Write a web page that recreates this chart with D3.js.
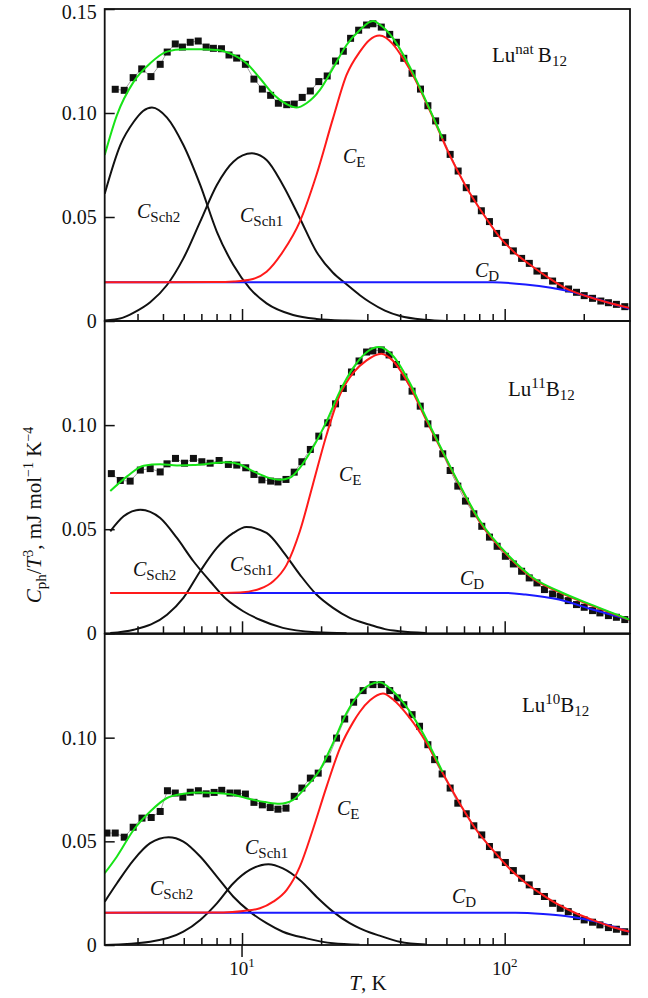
<!DOCTYPE html>
<html>
<head>
<meta charset="utf-8">
<script src="https://cdn.jsdelivr.net/npm/d3@7"></script>
<style>
  body { margin: 0; background: #fff; }
  svg { display: block; }
  text { font-family: "Liberation Serif", "Times New Roman", serif; fill: #111; }
</style>
</head>
<body>
<svg id="chart" width="648" height="998"></svg>
<script>
// ---------- data: [T (K), Cph/T^3 (mJ mol^-1 K^-4)] ----------
// Lu(nat)B12
const natPoints = [[3.29,0.1114],[3.56,0.1109],[3.85,0.1170],[4.15,0.1212],[4.50,0.1175],[4.88,0.1234],[5.19,0.1293],[5.57,0.1332],[5.93,0.1317],[6.35,0.1340],[6.81,0.1346],[7.30,0.1317],[7.78,0.1311],[8.35,0.1309],[8.92,0.1279],[9.54,0.1264],[10.3,0.1234],[11.1,0.1163],[11.95,0.1115],[12.85,0.1085],[13.75,0.1047],[14.8,0.1040],[15.8,0.1043],[16.95,0.1075],[18.2,0.1106],[19.6,0.1151],[21.1,0.1178],[22.7,0.1250],[24.3,0.1297],[25.9,0.1359],[27.8,0.1398],[29.8,0.1423],[31.5,0.1429],[33.9,0.1413],[36.5,0.1378],[38.7,0.1340],[41.3,0.1263],[44.4,0.1191],[47.8,0.1115],[51.0,0.1035],[54.6,0.0962],[58.1,0.0881],[62.0,0.0801],[66.5,0.0721],[71.4,0.0641],[76.3,0.0587],[81.5,0.0530],[87.5,0.0478],[93.2,0.0421],[100.6,0.0378],[107.9,0.0337],[116.0,0.0301],[124.1,0.0277],[132.7,0.0240],[141.5,0.0218],[152.2,0.0192],[162.7,0.0170],[175.1,0.0154],[187.7,0.0138],[200.8,0.0122],[216.0,0.0109],[232.3,0.0096],[248.3,0.0088],[266.3,0.0080],[286.6,0.0069]];
const natTotal = [[3,0.0798],[3.34,0.0990],[3.87,0.1151],[4.47,0.1239],[5.18,0.1295],[5.98,0.1306],[6.93,0.1306],[8.02,0.1303],[9.27,0.1279],[10.4,0.1239],[11.7,0.1167],[13.15,0.1090],[14.8,0.1042],[16.1,0.1026],[17.6,0.1047],[19.8,0.1111],[22.2,0.1215],[25.0,0.1327],[28.1,0.1399],[31.5,0.1442],[34.0,0.1418],[37.6,0.1359],[43.5,0.1223],[50,0.1062],[58,0.0878]];
const natEinstein = [[3,0.0186],[8,0.0187],[9.3,0.0190],[11.0,0.0202],[12.4,0.0237],[14.3,0.0333],[16.6,0.0478],[19.2,0.0702],[22.2,0.0974],[25.0,0.1183],[28.1,0.1295],[30.5,0.1350],[33.4,0.1372],[37.6,0.1330],[41.0,0.1263],[43.5,0.1210],[47.4,0.1119],[54.9,0.0942],[61.7,0.0798],[71.3,0.0646],[82.5,0.0518],[95.5,0.0405],[110,0.0325],[128,0.0261],[148,0.0205],[171,0.0157],[204,0.0120],[243,0.0091],[300,0.0062]];
const natDebye = [[3,0.0186],[90,0.0186],[120,0.0176],[150,0.0160],[187,0.0135],[216,0.0112],[258,0.0082],[300,0.0058]];
const natSch2 = [[3,0.0612],[3.44,0.0846],[3.87,0.0958],[4.2,0.1010],[4.54,0.1027],[5.18,0.0978],[5.98,0.0846],[6.93,0.0654],[8.02,0.0429],[9.27,0.0269],[10.7,0.0157],[12.4,0.0085],[15.65,0.0029],[19.2,0.0010],[25,0.0002],[30,0]];
const natSch1 = [[3,0.0003],[3.5,0.0015],[3.87,0.0040],[4.47,0.0090],[5.18,0.0173],[5.98,0.0301],[6.93,0.0478],[8.02,0.0654],[9.27,0.0766],[10.9,0.0806],[12.4,0.0774],[14.3,0.0654],[16.6,0.0494],[19.2,0.0333],[22.2,0.0232],[24.8,0.0180],[28.1,0.0124],[30.7,0.0090],[35,0.0050],[40,0.0024],[50,0.0006],[60,0]];

// Lu(11)B12
const b11Points = [[3.18,0.0767],[3.44,0.0734],[3.75,0.0731],[4.10,0.0784],[4.47,0.0791],[4.88,0.0775],[5.18,0.0814],[5.58,0.0840],[6.04,0.0817],[6.53,0.0840],[7.03,0.0824],[7.56,0.0817],[8.18,0.0830],[8.87,0.0811],[9.55,0.0808],[10.33,0.0795],[11.1,0.0763],[11.9,0.0737],[12.85,0.0731],[13.7,0.0727],[14.7,0.0739],[15.8,0.0774],[16.9,0.0824],[18.2,0.0883],[19.6,0.0947],[21.2,0.1011],[22.7,0.1102],[24.3,0.1176],[26.1,0.1255],[27.9,0.1308],[29.8,0.1351],[31.5,0.1356],[33.9,0.1361],[36.3,0.1337],[38.7,0.1291],[41.3,0.1231],[44.4,0.1163],[47.7,0.1091],[51.0,0.1006],[54.6,0.0939],[58.1,0.0862],[62.0,0.0782],[66.3,0.0707],[70.9,0.0635],[76.3,0.0574],[81.8,0.0514],[87.5,0.0462],[93.6,0.0418],[100.6,0.0370],[107.9,0.0333],[116,0.0298],[124,0.0266],[132.7,0.0242],[141.7,0.0210],[152.2,0.0189],[162.7,0.0178],[174.6,0.0157],[187.7,0.0138],[200.8,0.0125],[216,0.0109],[230.4,0.0098],[248.3,0.0085],[266.3,0.0077],[286.6,0.0066]];
const b11Total = [[3.15,0.0683],[3.66,0.0755],[4.22,0.0805],[4.88,0.0812],[5.65,0.0806],[6.53,0.0808],[7.56,0.0815],[8.75,0.0822],[9.83,0.0811],[11.0,0.0779],[12.4,0.0750],[13.9,0.0737],[15.2,0.0747],[16.6,0.0795],[18.6,0.0891],[21.0,0.1019],[23.6,0.1163],[26.5,0.1275],[29.8,0.1350],[33.2,0.1375],[37.6,0.1332],[43.5,0.1203],[50,0.1040],[58,0.0875],[67.3,0.0714],[80,0.0545],[104,0.0370],[130,0.0262],[161,0.0202],[216,0.0135],[300,0.0065]];
const b11Einstein = [[3.15,0.0194],[8.5,0.0194],[9.83,0.0196],[11.7,0.0214],[13.15,0.0250],[14.8,0.0330],[16.6,0.0490],[18.6,0.0714],[21.0,0.0955],[23.6,0.1147],[26.5,0.1251],[29.8,0.1311],[33.9,0.1343],[37.6,0.1308],[43.5,0.1188],[50,0.1030],[58,0.0870],[67.3,0.0710],[80,0.0540],[104,0.0365],[130,0.0258],[161,0.0198],[216,0.0132],[300,0.0064]];
const b11Debye = [[3.15,0.0194],[100,0.0194],[120,0.0186],[161,0.0162],[216,0.0114],[300,0.0065]];
const b11Sch2 = [[3.15,0.0490],[3.54,0.0562],[4.10,0.0594],[4.88,0.0554],[5.65,0.0458],[6.53,0.0346],[7.56,0.0250],[8.75,0.0162],[10.1,0.0106],[11.7,0.0065],[14.3,0.0026],[19.2,0.0005],[25,0]];
const b11Sch1 = [[3.15,0.0001],[3.87,0.0017],[5.18,0.0089],[5.98,0.0170],[6.93,0.0298],[8.02,0.0410],[9.27,0.0482],[10.4,0.0510],[12.4,0.0482],[14.3,0.0394],[16.6,0.0282],[19.2,0.0186],[22.2,0.0122],[25.7,0.0074],[30.7,0.0041],[35,0.0020],[40,0.0010],[50,0.0002]];

// Lu(10)B12
const b10Points = [[3.06,0.0540],[3.29,0.0540],[3.56,0.0520],[3.85,0.0568],[4.16,0.0612],[4.51,0.0615],[4.88,0.0644],[5.20,0.0744],[5.57,0.0733],[5.95,0.0713],[6.35,0.0737],[6.82,0.0744],[7.30,0.0729],[7.83,0.0736],[8.37,0.0746],[9.00,0.0733],[9.60,0.0733],[10.3,0.0728],[11.1,0.0688],[11.95,0.0676],[12.8,0.0663],[13.7,0.0655],[14.7,0.0660],[15.8,0.0717],[16.9,0.0757],[18.2,0.0805],[19.5,0.0829],[21.2,0.0897],[22.9,0.0998],[24.6,0.1090],[26.6,0.1171],[28.9,0.1227],[31.5,0.1256],[33.9,0.1256],[36.5,0.1227],[39.0,0.1192],[41.3,0.1159],[44.4,0.1111],[47.4,0.1055],[51.0,0.0966],[54.1,0.0894],[57.8,0.0825],[62.0,0.0757],[66.3,0.0684],[71.4,0.0633],[76.3,0.0575],[81.8,0.0531],[87.5,0.0475],[93.6,0.0435],[100.6,0.0398],[107.9,0.0359],[116,0.0322],[124,0.0290],[132.7,0.0258],[141.7,0.0234],[152.2,0.0201],[162.7,0.0177],[174.6,0.0161],[187.7,0.0137],[200.8,0.0121],[216,0.0110],[230.4,0.0097],[248.3,0.0084],[266.3,0.0076],[286.6,0.0064]];
const b10Total = [[3,0.0346],[3.34,0.0427],[3.87,0.0556],[4.47,0.0644],[5.18,0.0709],[5.98,0.0729],[6.93,0.0736],[8.02,0.0733],[9.27,0.0725],[10.7,0.0704],[12.4,0.0688],[13.9,0.0681],[15.65,0.0700],[17.6,0.0765],[19.8,0.0845],[22.2,0.0974],[25.0,0.1119],[28.1,0.1216],[30.7,0.1256],[33.4,0.1267],[37.6,0.1224],[43.5,0.1127],[50.4,0.0990],[58,0.0835]];
const b10Einstein = [[3,0.0156],[8.5,0.0157],[10.1,0.0164],[11.7,0.0177],[13.15,0.0209],[14.8,0.0266],[16.6,0.0378],[18.6,0.0556],[21.0,0.0765],[23.6,0.0950],[26.5,0.1075],[28.1,0.1125],[30.7,0.1180],[34.4,0.1213],[37.6,0.1184],[43.5,0.1095],[50.4,0.0974],[58.1,0.0829],[67.3,0.0685],[77.9,0.0556],[90,0.0459],[104,0.0370],[120.6,0.0298],[139.4,0.0242],[161,0.0193],[186.7,0.0153],[216,0.0121],[249.6,0.0092],[300,0.0064]];
const b10Debye = [[3,0.0156],[110,0.0156],[140,0.0150],[170,0.0140],[200,0.0125],[230,0.0108],[260,0.0088],[300,0.0062]];
const b10Sch2 = [[3,0.0209],[3.34,0.0298],[3.87,0.0411],[4.47,0.0491],[5.25,0.0520],[5.98,0.0499],[6.93,0.0427],[8.02,0.0330],[9.27,0.0233],[10.7,0.0161],[12.4,0.0105],[14.3,0.0064],[17.6,0.0032],[22.2,0.0008],[28,0.0001]];
const b10Sch1 = [[3,0],[4.47,0.0016],[5.98,0.0064],[6.93,0.0121],[8.02,0.0201],[9.27,0.0298],[10.7,0.0362],[12.6,0.0390],[14.3,0.0370],[16.6,0.0314],[19.2,0.0233],[22.2,0.0161],[25.7,0.0105],[28.1,0.0080],[30.7,0.0060],[33.4,0.0045],[39.8,0.0016],[50,0.0002]];

// ---------- axes ----------
const xDomain = [3, 300];
const yDomain = [0, 0.15];
const xMajorTicks = [10, 100];
const xMinorTicks = [4, 5, 6, 7, 8, 9, 20, 30, 40, 50, 60, 70, 80, 90, 200];
const xTickExponents = ["1", "2"];
const yTicksTop = [0, 0.05, 0.10, 0.15];
const yTicks = [0, 0.05, 0.10];

// ---------- layout ----------
const svg = d3.select("#chart");
const left = 104.7, right = 630;
const x = d3.scaleLog().domain(xDomain).range([left, right]);

const panels = [
  { top: 9,   bottom: 321,   pts: natPoints, tot: natTotal, ein: natEinstein, deb: natDebye, s2: natSch2, s1: natSch1,
    yt: yTicksTop, iso: "nat", isoPos: [492, 62],
    lab: { s2: [137, 218], s1: [240, 222], e: [343, 163], d: [475, 277] } },
  { top: 321, bottom: 633.3, pts: b11Points, tot: b11Total, ein: b11Einstein, deb: b11Debye, s2: b11Sch2, s1: b11Sch1,
    yt: yTicks, iso: "11", isoPos: [508, 396],
    lab: { s2: [133, 576], s1: [230, 571], e: [339, 481], d: [460, 585] } },
  { top: 634, bottom: 945,   pts: b10Points, tot: b10Total, ein: b10Einstein, deb: b10Debye, s2: b10Sch2, s1: b10Sch1,
    yt: yTicks, iso: "10", isoPos: [522, 712],
    lab: { s2: [150, 895], s1: [245, 854], e: [337, 815], d: [452, 903] } }
];

// writes a run of styled pieces into one text element
function rich(g, px, py, parts, anchor, transform) {
  const t = g.append("text").attr("x", px).attr("y", py).attr("text-anchor", anchor || "start");
  if (transform) t.attr("transform", transform);
  let shift = 0;
  parts.forEach(p => {
    const s = p.shift || 0;
    t.append("tspan")
      .attr("dy", s - shift)
      .style("font-size", (p.size || 20) + "px")
      .style("font-style", p.italic ? "italic" : "normal")
      .text(p.t);
    shift = s;
  });
  return t;
}

const colors = { sch: "#111", deb: "#1a1aff", ein: "#ff1a1a", tot: "#17e317" };

panels.forEach((p, i) => {
  const y = d3.scaleLinear().domain(yDomain).range([p.bottom, p.top]);
  const g = svg.append("g");
  const clipId = "clip" + i;
  svg.append("clipPath").attr("id", clipId)
    .append("rect").attr("x", left).attr("y", p.top).attr("width", right - left).attr("height", p.bottom - p.top);

  const line = d3.line().x(d => x(d[0])).y(d => y(d[1])).curve(d3.curveMonotoneX);
  const plot = g.append("g").attr("clip-path", `url(#${clipId})`);

  // thin guide joining the measured points
  plot.append("path").datum(p.pts).attr("d", d3.line().x(d => x(d[0])).y(d => y(d[1])))
    .attr("fill", "none").attr("stroke", "#8a8a8a").attr("stroke-width", 0.8);
  // measured points
  plot.selectAll("rect.pt").data(p.pts).join("rect").attr("class", "pt")
    .attr("x", d => x(d[0]) - 3.5).attr("y", d => y(d[1]) - 3.5)
    .attr("width", 7).attr("height", 7).attr("fill", "#111");

  // fit components
  [[p.s2, colors.sch], [p.s1, colors.sch], [p.deb, colors.deb], [p.ein, colors.ein], [p.tot, colors.tot]]
    .forEach(([data, c]) => {
      plot.append("path").datum(data).attr("d", line)
        .attr("fill", "none").attr("stroke", c).attr("stroke-width", 2);
    });

  // x ticks (pointing inward)
  const axMinor = d3.axisBottom(x).tickValues(xMinorTicks).tickSize(-7).tickFormat("");
  const axMajor = d3.axisBottom(x).tickValues(xMajorTicks).tickSize(-12).tickFormat("");
  [axMinor, axMajor].forEach(ax => {
    const a = g.append("g").attr("transform", `translate(0,${p.bottom})`).call(ax);
    a.select(".domain").remove();
    a.selectAll("line").attr("stroke", "#111").attr("stroke-width", 1.5);
  });

  // y ticks and labels
  const ay = g.append("g").attr("transform", `translate(${left},0)`)
    .call(d3.axisLeft(y).tickValues(p.yt).tickSize(-10).tickPadding(8)
      .tickFormat(d => d === 0 ? "0" : d3.format(".2f")(d)));
  ay.select(".domain").remove();
  ay.selectAll("line").attr("stroke", "#111").attr("stroke-width", 1.5);
  ay.selectAll("text").style("font-size", "20px").attr("fill", "#111")
    .attr("font-family", "Liberation Serif, serif");
  // keep the topmost label inside the page
  ay.selectAll(".tick").filter(d => d === 0.15).select("text").attr("y", 3);

  // frame
  g.append("rect").attr("x", left).attr("y", p.top).attr("width", right - left).attr("height", p.bottom - p.top)
    .attr("fill", "none").attr("stroke", "#111").attr("stroke-width", 1.8);

  // component labels
  const subC = (name, pos) => rich(g, pos[0], pos[1], [
    { t: "C", italic: true, size: 20 }, { t: name, size: 15, shift: 4 }]);
  subC("Sch2", p.lab.s2);
  subC("Sch1", p.lab.s1);
  subC("E", p.lab.e);
  subC("D", p.lab.d);

  // sample label
  rich(g, p.isoPos[0], p.isoPos[1], [
    { t: "Lu", size: 21 }, { t: p.iso, size: 15, shift: -8 }, { t: (p.iso === "nat" ? "\u2009" : "") + "B", size: 21 },
    { t: "12", size: 15, shift: 4 }]);

  if (i === 2) {
    // decade tick crossing the axis
    g.append("line").attr("x1", x(10)).attr("x2", x(10)).attr("y1", p.bottom).attr("y2", p.bottom + 12)
      .attr("stroke", "#111").attr("stroke-width", 1.5);
    xMajorTicks.forEach((v, k) => {
      rich(g, x(v), 975, [{ t: "10", size: 19 }, { t: xTickExponents[k], size: 13, shift: -8 }], "middle");
    });
  }
});

// axis titles
rich(svg, 368, 990, [{ t: "T", italic: true, size: 21 }, { t: ", K", size: 21 }], "middle");
rich(svg, 0, 0, [
  { t: "C", italic: true, size: 21 }, { t: "ph", size: 15, shift: 5 }, { t: "/", size: 21 },
  { t: "T", italic: true, size: 21 }, { t: "3", size: 14, shift: -8 }, { t: ", mJ mol", size: 21 },
  { t: "\u22121", size: 14, shift: -8 }, { t: " K", size: 21 }, { t: "\u22124", size: 14, shift: -8 }
], "middle", "translate(41,515) rotate(-90)");
</script>
</body>
</html>
